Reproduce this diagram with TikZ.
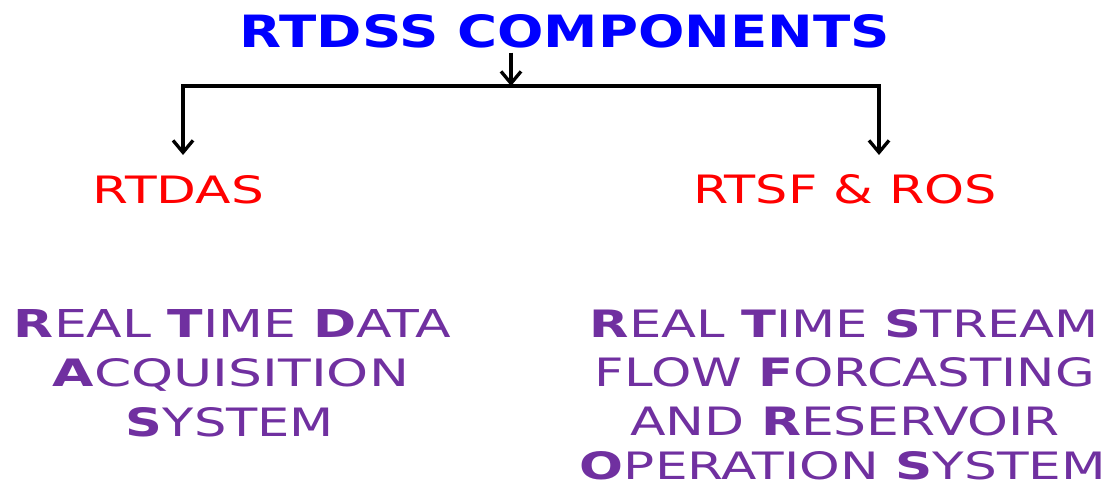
\documentclass[tikz,border=0pt]{standalone}
\usepackage{fontspec}
\setmainfont{DejaVu Sans}
\usetikzlibrary{arrows.meta}
\newlength\pxu
\setlength\pxu{0.75pt}
\newcommand\fitline[3]{\resizebox{#1\pxu}{#2\pxu}{#3}}
\newcommand\bl[1]{\textbf{#1}}
\definecolor{ttlblue}{RGB}{0,0,255}
\definecolor{lblred}{RGB}{255,0,0}
\definecolor{lngpurple}{RGB}{112,48,160}
\begin{document}
\begin{tikzpicture}[x=0.75pt,y=-0.75pt,
  txt/.style={inner sep=0pt, outer sep=0pt, anchor=north},
  conn/.style={line width=2.5pt, line join=miter, -{Straight Barb[length=9pt,width=15pt]}}]
\useasboundingbox (0,0) rectangle (1110,485);
% title
\node[txt, text=ttlblue] (title) at (565,14) {\fitline{650}{33}{\bfseries RTDSS COMPONENTS}};
% red labels
\node[txt, text=lblred] (rtdas) at (178.5,175) {\fitline{171}{28}{RTDAS}};
\node[txt, text=lblred] (rtsf) at (845,174) {\fitline{304}{29}{RTSF \& ROS}};
% purple descriptions
\node[txt, text=lngpurple] (l1) at (232.5,309) {\fitline{437}{28}{\bl{R}EAL \bl{T}IME \bl{D}ATA}};
\node[txt, text=lngpurple] (l2) at (231,358) {\fitline{356}{28}{\bl{A}CQUISITION}};
\node[txt, text=lngpurple] (l3) at (230,407) {\fitline{208}{29}{\bl{S}YSTEM}};
\node[txt, text=lngpurple] (r1) at (844.5,309) {\fitline{509}{28}{\bl{R}EAL \bl{T}IME \bl{S}TREAM}};
\node[txt, text=lngpurple] (r2) at (845,357) {\fitline{500}{29}{FLOW \bl{F}ORCASTING}};
\node[txt, text=lngpurple] (r3) at (845,406) {\fitline{430}{29}{AND \bl{R}ESERVOIR}};
\node[txt, text=lngpurple] (r4) at (843,451) {\fitline{526}{28}{\bl{O}PERATION \bl{S}YSTEM}};
% connectors
\coordinate (j) at (511,86);
\draw[conn] ([xshift=-40.5pt,yshift=-3.75pt]title.south) -- (j);
\draw[conn] (j) -| ([xshift=3.4pt,yshift=15pt]rtdas.north);
\draw[conn] (j) -| ([xshift=25.5pt,yshift=14.25pt]rtsf.north);
\end{tikzpicture}
\end{document}
